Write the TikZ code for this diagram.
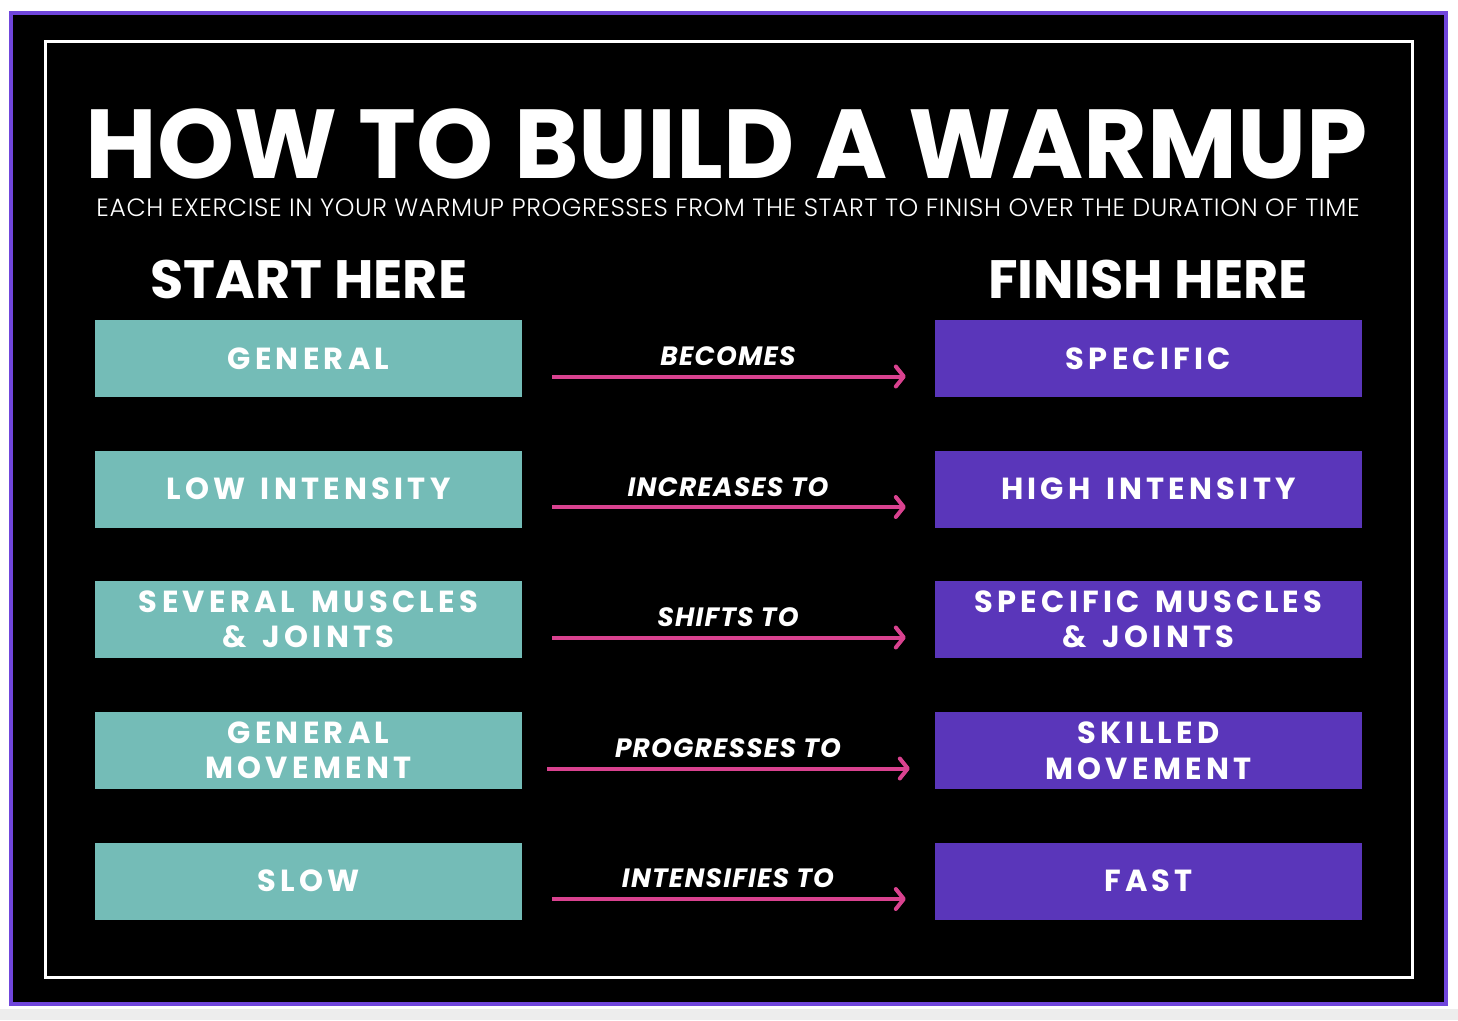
\documentclass[tikz,border=0pt]{standalone}
\usepackage{fontspec}
\setmainfont{Poppins}
\newfontfamily\boxfont{Poppins}[LetterSpace=14, WordSpace=1.45]
\newfontfamily\lightfont{Poppins Light}[LetterSpace=2.5]
\newfontfamily\labfont{Poppins}[LetterSpace=4.5]
\usetikzlibrary{arrows.meta}
\definecolor{tealbox}{HTML}{74BCB7}
\definecolor{purpbox}{HTML}{5A36BA}
\definecolor{framecol}{HTML}{7046DC}
\definecolor{pinkarr}{HTML}{D9428F}
\tikzset{
  startbox/.style={fill=tealbox, minimum width=427pt, minimum height=77pt, inner sep=0pt,
    text=white, align=center, font=\boxfont\bfseries\fontsize{30.5}{35.5}\selectfont},
  endbox/.style={startbox, fill=purpbox},
  arrlabel/.style={text=white, anchor=base, inner sep=0pt, text depth=0pt, text height=18pt, font=\labfont\bfseries\itshape\fontsize{26.5}{26.5}\selectfont},
  arr/.style={pinkarr, line width=4pt, -{Straight Barb[length=8pt,width=20pt,round]}},
  head/.style={text=white, anchor=base, inner sep=0pt, text depth=0pt, text height=38pt, font=\bfseries\fontsize{54}{54}\selectfont}
}
\begin{document}
\begin{tikzpicture}[x=1pt,y=-1pt]
\useasboundingbox (0,0) rectangle (1458,1020);
\fill[white] (0,0) rectangle (1458,1020);
\fill[black!7] (0,1009) rectangle (1458,1020);
\draw[framecol, line width=4pt, fill=black] (11,13) rectangle (1446,1004);
\draw[white, line width=3pt] (45,41) rectangle (1412,977);

\node[text=white, anchor=base, inner sep=0pt, text depth=0pt, text height=69pt, font=\bfseries\fontsize{98}{98}\selectfont] (title) at (727,178) {HOW TO BUILD A WARMUP};
\node[text=white, anchor=base, inner sep=0pt, text depth=0pt, text height=18pt, font=\lightfont\fontsize{25}{25}\selectfont] (sub) at (728,216) {EACH EXERCISE IN YOUR WARMUP PROGRESSES FROM THE START TO FINISH OVER THE DURATION OF TIME};

\node[head] (start) at (309,298) {START HERE};
\node[head] (finish) at (1148,298) {FINISH HERE};

\node[startbox] (l1) at (308.5,358.5) {GENERAL};
\node[startbox] (l2) at (308.5,489) {LOW INTENSITY};
\node[startbox] (l3) at (308.5,619.5) {SEVERAL MUSCLES\\\& JOINTS};
\node[startbox] (l4) at (308.5,750.5) {GENERAL\\MOVEMENT};
\node[startbox] (l5) at (308.5,881) {SLOW};

\node[endbox] (r1) at (1148.5,358.5) {SPECIFIC};
\node[endbox] (r2) at (1148.5,489) {HIGH INTENSITY};
\node[endbox] (r3) at (1148.5,619.5) {SPECIFIC MUSCLES\\\& JOINTS};
\node[endbox] (r4) at (1148.5,750.5) {SKILLED\\MOVEMENT};
\node[endbox] (r5) at (1148.5,881) {FAST};

\node[arrlabel] (t1) at (728,365) {BECOMES};
\node[arrlabel] (t2) at (728,496) {INCREASES TO};
\node[arrlabel] (t3) at (728,626) {SHIFTS TO};
\node[arrlabel] (t4) at (728,757) {PROGRESSES TO};
\node[arrlabel] (t5) at (728,887) {INTENSIFIES TO};

\draw[arr] ([xshift=30pt,yshift=-18pt]l1.east) -- ([xshift=-29pt,yshift=-18pt]r1.west);
\draw[arr] ([xshift=30pt,yshift=-18pt]l2.east) -- ([xshift=-29pt,yshift=-18pt]r2.west);
\draw[arr] ([xshift=30pt,yshift=-18pt]l3.east) -- ([xshift=-29pt,yshift=-18pt]r3.west);
\draw[arr] ([xshift=25pt,yshift=-18pt]l4.east) -- ([xshift=-25pt,yshift=-18pt]r4.west);
\draw[arr] ([xshift=30pt,yshift=-18pt]l5.east) -- ([xshift=-29pt,yshift=-18pt]r5.west);
\end{tikzpicture}
\end{document}
